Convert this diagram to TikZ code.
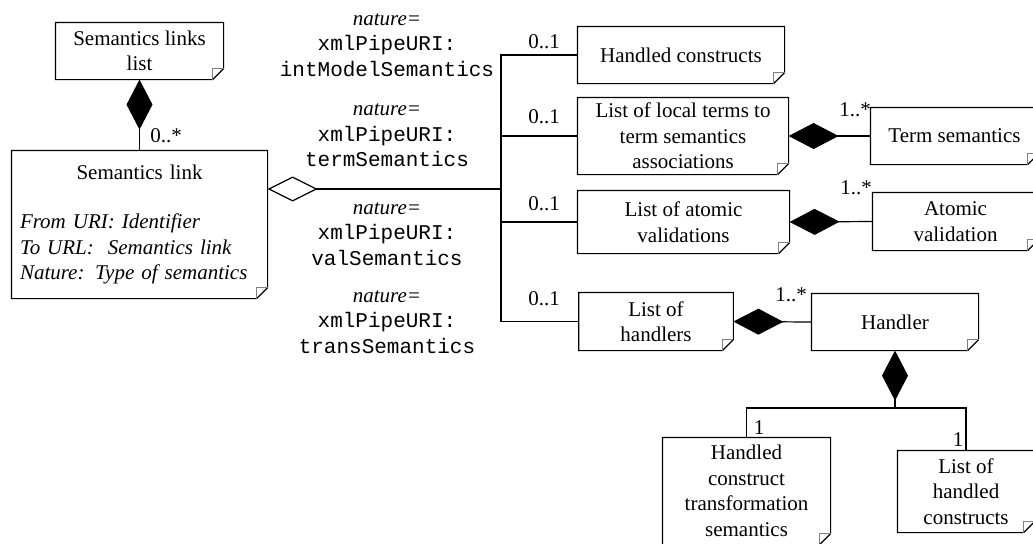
\documentclass[tikz,border=0pt]{standalone}
\usepackage{fontspec}
\setmainfont{Liberation Serif}
\setmonofont{Liberation Mono}
\usetikzlibrary{arrows.meta,positioning}
\tikzset{
  umlbox/.style={inner sep=2pt,align=center,font=\fontsize{10.5}{12.8}\selectfont},
  mul/.style={inner sep=0pt,font=\fontsize{10.5}{12.8}\selectfont},
  role/.style={inner sep=0pt,align=center,font=\fontsize{10.5}{12.8}\selectfont},
  compo/.style={{Diamond[length=25pt,width=13pt]}-},
  aggr/.style={{Diamond[open,length=25pt,width=12.5pt]}-},
}
% box outline with the folded corner
\newcommand{\foldnote}[1]{%
  \draw (#1.north west) -- (#1.north east) -- ([yshift=5.5pt]#1.south east)
    -- ([xshift=-5.5pt]#1.south east) -- (#1.south west) -- cycle;
  \draw[gray,line width=.4pt] ([xshift=-5.5pt]#1.south east) |- ([yshift=5.5pt]#1.south east);}

\begin{document}
\begin{tikzpicture}[x=.5pt,y=-.5pt,line width=.6pt]
  \useasboundingbox (0,0) rectangle (1033,543);
  % classes
  \node[umlbox,minimum width=83.5pt,minimum height=28pt] (lst) at (139.5,51) {Semantics links\\list};
  \node[umlbox,minimum width=127.5pt,minimum height=73.5pt,text width=119.5pt,align=left] (lnk) at (139.5,224.5)
    {{\centering Semantics link\par}\vspace{11.7pt}\textit{From URI: Identifier}\\\textit{To URL:\ \ Semantics link}\\\textit{Nature: Type of semantics}};
  \node[umlbox,minimum width=103pt,minimum height=28pt] (hc) at (681,55) {Handled constructs};
  \node[umlbox,minimum width=105pt,minimum height=38pt] (lt) at (683,136) {List of local terms to\\term semantics\\associations};
  \node[umlbox,minimum width=105.5pt,minimum height=31pt] (av) at (683.5,222) {List of atomic\\validations};
  \node[umlbox,minimum width=76.75pt,minimum height=28.5pt] (lh) at (656,321.5) {List of\\handlers};
  \node[umlbox,minimum width=83.5pt,minimum height=28pt] (ts) at (954.5,136) {Term semantics};
  \node[umlbox,minimum width=82.5pt,minimum height=28.5pt] (atv) at (955.5,221.5) {Atomic\\validation};
  \node[umlbox,minimum width=83pt,minimum height=28pt] (hd) at (895,322) {Handler};
  \node[umlbox,minimum width=83.5pt,minimum height=53pt] (hct) at (746.5,491) {Handled\\construct\\transformation\\semantics};
  \node[umlbox,minimum width=68pt,minimum height=40.5pt] (lhc) at (966,491.5) {List of\\handled\\constructs};
  \foreach \b in {lst,lnk,hc,lt,av,lh,ts,atv,hd,hct,lhc}{\foldnote{\b}}

  % natures of the links
  \node[role] (r1) at (387,45) {\textit{nature=}\\\texttt{xmlPipeURI:}\\\texttt{intModelSemantics}};
  \node[role] (r2) at (387,135.5) {\textit{nature=}\\\texttt{xmlPipeURI:}\\\texttt{termSemantics}};
  \node[role] (r3) at (387,234) {\textit{nature=}\\\texttt{xmlPipeURI:}\\\texttt{valSemantics}};
  \node[role] (r4) at (387,322) {\textit{nature=}\\\texttt{xmlPipeURI:}\\\texttt{transSemantics}};

  % connectors
  \coordinate (jn) at (501,189);
  \coordinate (fk) at (895,408);
  \draw[compo] (lst.south) -- (lnk.north);
  \draw[aggr] (lnk.east |- jn) -- (jn);
  \draw (hc.west) -| (jn |- lh.west) -- (lh.west);
  \draw (lt.west) -- (lt.west -| jn);
  \draw (av.west) -- (av.west -| jn);
  \draw[compo] (lt.east) -- (ts.west);
  \draw[compo] (av.east) -- (atv.west);
  \draw[compo] (lh.east) -- (hd.west);
  \draw[compo] (hd.south) -- (fk);
  \draw (hct.north) |- (fk) -| (lhc.north);

  % multiplicities
  \node[mul] (m0) at (166,136) {0..*};
  \node[mul] (m1) at (544,42) {0..1};
  \node[mul] (m2) at (544,117) {0..1};
  \node[mul] (m3) at (544,204) {0..1};
  \node[mul] (m4) at (544,299) {0..1};
  \node[mul] (m5) at (855,110) {1..*};
  \node[mul] (m6) at (856,188) {1..*};
  \node[mul] (m7) at (791,295) {1..*};
  \node[mul] (m8) at (759,428) {1};
  \node[mul] (m9) at (958,440) {1};
\end{tikzpicture}
\end{document}
